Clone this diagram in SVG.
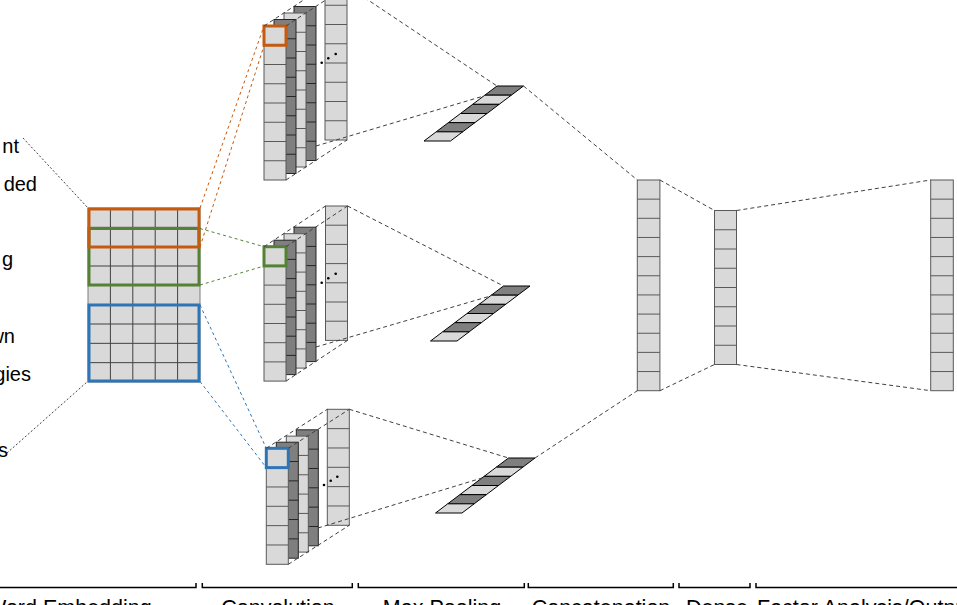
<svg xmlns="http://www.w3.org/2000/svg" xmlns:xlink="http://www.w3.org/1999/xlink" width="957" height="605" viewBox="0 0 957 605">
<style>
.lt{fill:#D9D9D9;stroke:#595959;stroke-width:1}
.dk{fill:#7F7F7F;stroke:#262626;stroke-width:1}
.dash{fill:none;stroke:#404040;stroke-width:1;stroke-dasharray:4 3}
.dot{fill:none;stroke:#404040;stroke-width:1;stroke-dasharray:2 2}
.or{stroke:#C55A11}
.gr{stroke:#548235}
.bl{stroke:#2E75B6}
.cd{fill:none;stroke-width:1;stroke-dasharray:3 3}
.box{fill:none;stroke-width:3}
.txt{font-family:"Liberation Sans",Arial,sans-serif;fill:#000}
.lbl{font-size:21.5px}
.side{font-size:20px}
.brk{fill:none;stroke:#000;stroke-width:1.5}
.pd{fill:#7F7F7F;stroke:#000;stroke-width:1}
.pl{fill:#D9D9D9;stroke:#000;stroke-width:1}
</style>
<defs>
<g id="c8"><rect x="0" y="0" width="22" height="154"/><path d="M0 19.25h22M0 38.5h22M0 57.75h22M0 77h22M0 96.25h22M0 115.5h22M0 134.75h22"/></g>
<g id="c7"><rect x="0" y="0" width="22" height="134.4"/><path d="M0 19.2h22M0 38.4h22M0 57.6h22M0 76.8h22M0 96h22M0 115.2h22"/></g>
<g id="c6"><rect x="0" y="0" width="22" height="116"/><path d="M0 19.33h22M0 38.67h22M0 58h22M0 77.33h22M0 96.67h22"/></g>
<g id="c11"><rect x="0" y="0" width="22.6" height="210.7"/><path d="M0 19.15h22.6M0 38.31h22.6M0 57.46h22.6M0 76.62h22.6M0 95.77h22.6M0 114.93h22.6M0 134.08h22.6M0 153.24h22.6M0 172.39h22.6M0 191.55h22.6"/></g>
<g id="strip">
<polygon class="pd" points="0,0 26.5,0 14.33,9.17 -12.17,9.17"/>
<polygon class="pl" points="-12.17,9.17 14.33,9.17 2.17,18.33 -24.33,18.33"/>
<polygon class="pd" points="-24.33,18.33 2.17,18.33 -10,27.5 -36.5,27.5"/>
<polygon class="pl" points="-36.5,27.5 -10,27.5 -22.17,36.67 -48.67,36.67"/>
<polygon class="pd" points="-48.67,36.67 -22.17,36.67 -34.33,45.83 -60.83,45.83"/>
<polygon class="pl" points="-60.83,45.83 -34.33,45.83 -46.5,55 -73,55"/>
</g>
</defs>
<rect x="0" y="0" width="957" height="605" fill="#fff"/>

<g id="side-text" class="txt side" text-anchor="end">
<text x="19" y="153">nt</text>
<text x="37" y="191">ded</text>
<text x="13" y="266">g</text>
<text x="15" y="343">wn</text>
<text x="31" y="381">gies</text>
<text x="8" y="457">s</text>
</g>

<g id="embedding">
<rect x="88" y="208" width="112" height="174" fill="#D9D9D9" stroke="#7F7F7F" stroke-width="1"/>
<path d="M110.4 208V382M132.8 208V382M155.2 208V382M177.6 208V382M88 227.33H200M88 246.67H200M88 266H200M88 285.33H200M88 304.67H200M88 324H200M88 343.33H200M88 362.67H200" stroke="#404040" stroke-width="1" fill="none"/>
<rect class="box gr" x="89" y="228.5" width="110" height="56.5"/>
<rect class="box or" x="89" y="209" width="110" height="38"/>
<rect class="box bl" x="89" y="305" width="110" height="76"/>
</g>

<g id="conv1">
<use xlink:href="#c8" x="325" y="-14" class="lt"/>
<use xlink:href="#c8" x="294" y="6.5" class="dk"/>
<use xlink:href="#c8" x="284" y="13" class="lt"/>
<use xlink:href="#c8" x="274" y="19.5" class="dk"/>
<use xlink:href="#c8" x="264" y="26" class="lt"/>
<rect class="box or" x="264" y="26" width="22" height="19.25"/>
<circle cx="321.7" cy="62.7" r="1.3"/><circle cx="328.3" cy="58.3" r="1.3"/><circle cx="335.7" cy="54" r="1.3"/>
</g>

<g id="conv2">
<use xlink:href="#c7" x="325.5" y="206" class="lt"/>
<use xlink:href="#c7" x="294" y="227.2" class="dk"/>
<use xlink:href="#c7" x="284" y="233.7" class="lt"/>
<use xlink:href="#c7" x="274" y="240.2" class="dk"/>
<use xlink:href="#c7" x="264" y="246.7" class="lt"/>
<rect class="box gr" x="264" y="246.7" width="22" height="19.2"/>
<circle cx="321.7" cy="282.7" r="1.3"/><circle cx="328.3" cy="278.3" r="1.3"/><circle cx="335.7" cy="273.7" r="1.3"/>
</g>

<g id="conv3">
<use xlink:href="#c6" x="327.3" y="409.3" class="lt"/>
<use xlink:href="#c6" x="296.3" y="429.8" class="dk"/>
<use xlink:href="#c6" x="286.3" y="436.1" class="lt"/>
<use xlink:href="#c6" x="276.3" y="442.2" class="dk"/>
<use xlink:href="#c6" x="266.3" y="448.3" class="lt"/>
<rect class="box bl" x="266.3" y="448.3" width="22" height="19.33"/>
<circle cx="324" cy="485" r="1.3"/><circle cx="330.7" cy="480.7" r="1.3"/><circle cx="337.3" cy="476.7" r="1.3"/>
</g>

<g id="pool1"><use xlink:href="#strip" x="497" y="86"/></g>
<g id="pool2"><use xlink:href="#strip" x="503.5" y="286"/></g>
<g id="pool3"><use xlink:href="#strip" x="508.5" y="458"/></g>

<g id="concat"><use xlink:href="#c11" x="637.3" y="180" class="lt"/></g>
<g id="dense"><use xlink:href="#c8" x="714.5" y="210.5" class="lt"/></g>
<g id="output"><use xlink:href="#c11" x="930.7" y="180" class="lt"/></g>

<g id="connectors">
<path class="dot" d="M23 138L88 208M7 453L87 382"/>
<path class="cd or" d="M200 208L264 26M200 247L264 45.5"/>
<path class="cd gr" d="M200 228.5L264 246.7M200 285L264 266"/>
<path class="cd bl" d="M200 305L266.3 448.3M200 381.5L266.3 467.6"/>
<path class="dash" d="M264 26L325 -14M286 26L347 -14M286 180L347 140"/>
<path class="dash" d="M264 246.7L325.5 206M286 246.7L347.5 206M286 381.1L347.5 340.4"/>
<path class="dash" d="M266.3 448.3L327.3 409.3M288.3 448.3L349.3 409.3M288.3 564.3L349.3 525.3"/>
<path class="dash" d="M347 -14L497 86M316 146L483.7 96"/>
<path class="dash" d="M347.5 206L503.5 286M316 347L490.5 296"/>
<path class="dash" d="M349.3 409.3L508.5 458M318 528L482 478"/>
<path class="dash" d="M523.5 86L637.3 180M535 458L637.3 390.7"/>
<path class="dash" d="M659.9 180L714.5 210.5M659.9 390.7L714.5 364.5"/>
<path class="dash" d="M736.5 210.5L930.7 180M736.5 364.5L930.7 390.7"/>
</g>

<g id="brackets">
<path class="brk" d="M-5 587.5H196V583"/>
<path class="brk" d="M202.3 583V587.5H352.3V583"/>
<path class="brk" d="M358.3 583V587.5H524.3V583"/>
<path class="brk" d="M528.3 583V587.5H673.3V583"/>
<path class="brk" d="M679 583V587.5H750V583"/>
<path class="brk" d="M756 583V587.5H962"/>
</g>

<g id="labels" class="txt lbl">
<text x="-14" y="614.5">Word Embedding</text>
<text x="278" y="614.5" text-anchor="middle">Convolution</text>
<text x="442" y="614.5" text-anchor="middle">Max Pooling</text>
<text x="601" y="614.5" text-anchor="middle">Concatenation</text>
<text x="717" y="614.5" text-anchor="middle">Dense</text>
<text x="757" y="614.5">Factor Analysis/Output</text>
</g>
</svg>
